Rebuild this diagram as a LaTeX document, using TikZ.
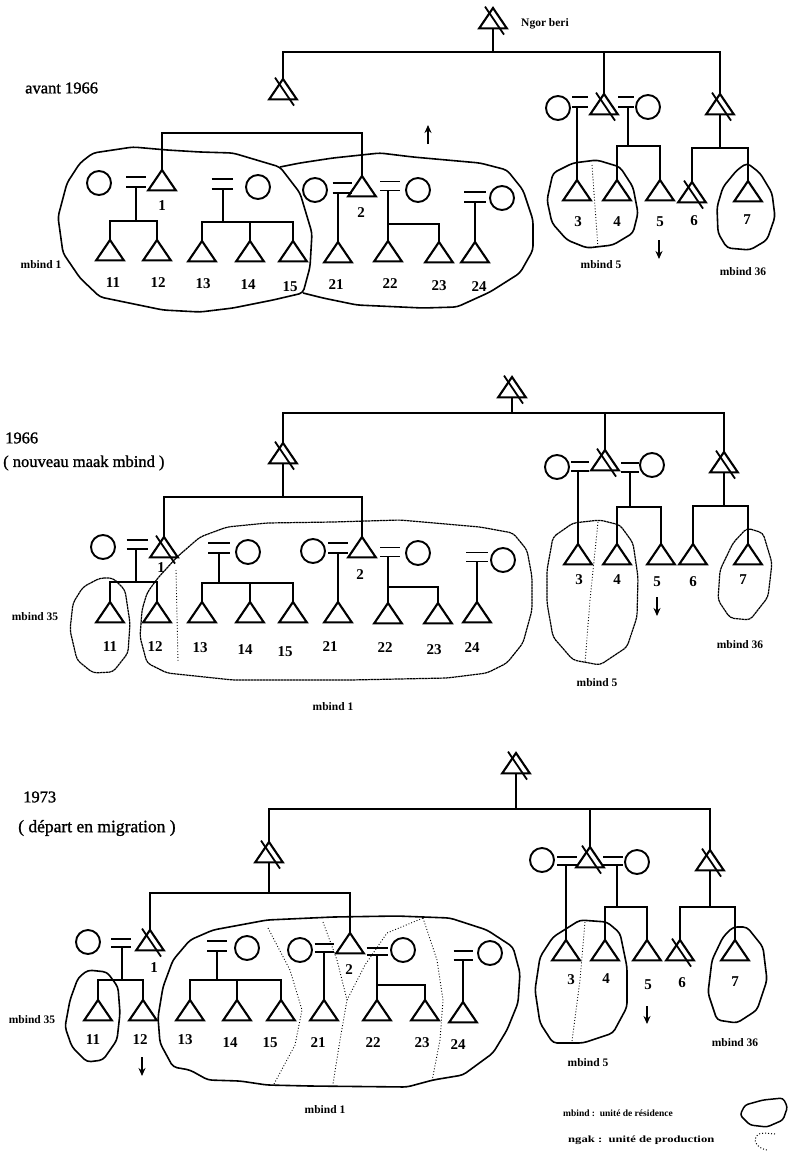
\documentclass[tikz,border=0pt]{standalone}
\usepackage{fontspec}
\setmainfont{Liberation Serif}
\newfontfamily\scanfont[FakeBold=1.2]{Liberation Serif}
\usetikzlibrary{shapes.geometric,arrows.meta}
\tikzset{
  tri/.style={regular polygon, regular polygon sides=3, minimum size=32pt, inner sep=0pt, outer sep=0pt, yscale=0.85, draw, line width=2.1pt, anchor=corner 1},
  circ/.style={circle, draw, minimum size=24pt, inner sep=0pt, line width=1.9pt},
  eqn/.style={minimum width=18pt, minimum height=9pt, inner sep=0pt, outer sep=0pt},
  eqline/.style={line width=1.8pt},
  ln/.style={line width=1.5pt},
  slash/.style={line width=1.8pt},
  num/.style={font=\fontsize{15}{15}\selectfont\bfseries, inner sep=0pt},
  small/.style={font=\fontsize{11.5}{11.5}\selectfont\bfseries, inner sep=0pt},
  title/.style={font=\scanfont\fontsize{16.5}{18}\selectfont, inner sep=0pt, anchor=west},
  outl/.style={line width=1.6pt, line join=round, rounded corners=4pt},
  outlb/.style={line width=1.2pt, line join=round, rounded corners=4pt, dash pattern=on 2.5pt off 0.5pt},
  ngak/.style={dotted, line width=0.9pt},
  arr/.style={-{Stealth[length=8pt,width=7pt]}, line width=1.6pt}
}
\newcommand\eqlines[1]{\draw[eqline] (#1.north west) -- (#1.north east) (#1.south west) -- (#1.south east);}
\newcommand\deadmark[1]{\draw[slash] ([xshift=-8pt,yshift=15pt]#1.center) -- ([xshift=11pt,yshift=-13pt]#1.center);}
\begin{document}
\begin{tikzpicture}[x=1pt,y=-1pt]
\useasboundingbox (0,0) rectangle (789,1176);

%%%%%%%%%%%%%%%% PANEL 1 : avant 1966
\node[title] (atitle) at (25,88) {avant 1966};
\node[tri] (aTop) at (493,8) {}; \deadmark{aTop}
\node[small, anchor=west] (angor) at (521,24) {Ngor beri};
\coordinate (atop) at (493,52);
\draw[ln] (aTop.side 2) -- (atop);
\node[tri] (aL) at (283,79) {}; \deadmark{aL}
\node[tri] (aM) at (604,94) {}; \deadmark{aM}
\node[tri] (aR) at (720,94) {}; \deadmark{aR}
\draw[ln] (aL.corner 1) |- (atop) -| (aR.corner 1);
\draw[ln] (aM.corner 1) -- (aM.corner 1 |- atop);

% generation of 1 and 2
\node[tri] (a1) at (162,170) {};
\node[tri] (a2) at (362,176) {};
\coordinate (abar) at (262,133);
\draw[ln] (a1.corner 1) |- (abar) -| (a2.corner 1);
\node[num] (al1) at (162,206) {1};
\node[num] (al2) at (361,213) {2};

\node[circ] (aw1) at (99,183) {};
\node[eqn, minimum width=20pt, minimum height=10pt] (ae1) at (136,182) {}; \eqlines{ae1}
\node[tri] (a11) at (110,240) {};
\node[tri] (a12) at (157,240) {};
\coordinate (ab1) at (136,221);
\draw[ln] (ae1.south) -- (ab1);
\draw[ln] (a11.corner 1) |- (ab1) -| (a12.corner 1);

\node[eqn, minimum width=21pt, minimum height=10pt] (ae1b) at (222,184) {}; \eqlines{ae1b}
\node[circ] (aw1b) at (258,187) {};
\node[tri] (a13) at (202,241) {};
\node[tri] (a14) at (250,241) {};
\node[tri] (a15) at (293,241) {};
\coordinate (ab1b) at (223,222);
\draw[ln] (ae1b.south -| ab1b) -- (ab1b);
\draw[ln] (a13.corner 1) |- (ab1b) -| (a15.corner 1);
\draw[ln] (a14.corner 1) -- (a14.corner 1 |- ab1b);

\node[circ] (aw2) at (315,190) {};
\node[eqn, minimum width=19pt, minimum height=10pt] (ae2) at (342,188) {}; \eqlines{ae2}
\node[tri] (a21) at (338,242) {};
\draw[ln] (a21.corner 1 |- ae2.south) -- (a21.corner 1);
\node[eqn, minimum width=20pt, minimum height=9pt] (ae2b) at (390,186) {}; \eqlines{ae2b}
\node[circ] (aw2b) at (418,190) {};
\node[tri] (a22) at (388,241) {};
\node[tri] (a23) at (439,242) {};
\coordinate (ab2b) at (388,224);
\draw[ln] (a22.corner 1 |- ae2b.south) -- (a22.corner 1);
\draw[ln] (a23.corner 1) |- (ab2b);
\node[eqn, minimum width=22pt, minimum height=10pt] (ae24) at (475,197) {}; \eqlines{ae24}
\node[circ] (aw24) at (502,198) {};
\node[tri] (a24) at (475,242) {};
\draw[ln] (ae24.south) -- (a24.corner 1);

\node[num] (al11) at (113,283) {11};
\node[num] (al12) at (158,283) {12};
\node[num] (al13) at (203,284) {13};
\node[num] (al14) at (248,285) {14};
\node[num] (al15) at (290,287) {15};
\node[num] (al21) at (336,285) {21};
\node[num] (al22) at (390,284) {22};
\node[num] (al23) at (439,286) {23};
\node[num] (al24) at (479,287) {24};

% right group
\node[circ] (aw5a) at (558,108) {};
\node[eqn, minimum width=16pt, minimum height=10pt] (ae5a) at (580,102) {}; \eqlines{ae5a}
\node[eqn, minimum width=16pt, minimum height=10pt] (ae5b) at (626,102) {}; \eqlines{ae5b}
\node[circ] (aw5b) at (648,107) {};
\node[tri] (a3) at (577,180) {};
\node[tri] (a4) at (617,180) {};
\node[tri] (a5) at (660,180) {};
\draw[ln] (a3.corner 1 |- ae5a.south) -- (a3.corner 1);
\coordinate (ab5) at (628,146);
\draw[ln] (ab5 |- ae5b.south) -- (ab5);
\draw[ln] (a4.corner 1) |- (ab5) -| (a5.corner 1);
\node[tri] (a6) at (692,182) {}; \deadmark{a6}
\node[tri] (a7) at (748,181) {};
\coordinate (abR) at (720,148);
\draw[ln] (aR.side 2) -- (abR);
\draw[ln] (a6.corner 1) |- (abR) -| (a7.corner 1);
\node[num] (al3) at (578,222) {3};
\node[num] (al4) at (617,222) {4};
\node[num] (al5) at (660,222) {5};
\node[num] (al6) at (694,221) {6};
\node[num] (al7) at (747,220) {7};

\coordinate (aup1) at (428,144); \coordinate (aup2) at (428,125);
\draw[arr] (aup1) -- (aup2);
\coordinate (adn1) at (659,240); \coordinate (adn2) at (659,259);
\draw[arr] (adn1) -- (adn2);

% outlines
\draw[outl] (93,153) -- (133,147) -- (167,150) -- (200,152) -- (233,153) -- (280,167) -- (300,193) -- (312,233) -- (310,267) -- (303,293) -- (273,300) -- (233,308) -- (200,312) -- (163,310) -- (100,297) -- (80,278) -- (63,253) -- (58,217) -- (67,183) -- (80,163) -- cycle;
\draw[outl] (280,167) -- (300,163) -- (333,158) -- (380,153) -- (413,157) -- (480,163) -- (507,170) -- (523,190) -- (533,220) -- (533,250) -- (520,273) -- (490,292) -- (457,307) -- (423,308) -- (357,305) -- (323,298) -- (303,293);
\draw[outl] (553,173) -- (573,163) -- (597,160) -- (620,167) -- (633,187) -- (638,213) -- (633,233) -- (613,245) -- (587,248) -- (567,240) -- (552,223) -- (547,200) -- cycle;
\draw[ngak] (592,165) -- (598,248);
\draw[outl] (747,163) -- (760,173) -- (772,193) -- (775,217) -- (767,240) -- (750,250) -- (727,248) -- (718,233) -- (717,207) -- (723,187) -- (737,170) -- cycle;
\node[small] (am1) at (41,265) {mbind 1};
\node[small] (am5) at (601,265) {mbind 5};
\node[small] (am36) at (743,272) {mbind 36};

%%%%%%%%%%%%%%%% PANEL 2 : 1966
\node[title] (btitle) at (5,438) {1966};
\node[title] (bsub) at (3,463) {( nouveau maak mbind )};
\node[tri] (bTop) at (512,377) {}; \deadmark{bTop}
\coordinate (btop) at (512,413);
\draw[ln] (bTop.side 2) -- (btop);
\node[tri] (bL) at (283,443) {}; \deadmark{bL}
\node[tri] (bM) at (605,450) {}; \deadmark{bM}
\node[tri] (bR) at (724,452) {}; \deadmark{bR}
\draw[ln] (bL.corner 1) |- (btop) -| (bR.corner 1);
\draw[ln] (bM.corner 1) -- (bM.corner 1 |- btop);

\node[tri] (b1) at (164,537) {}; \deadmark{b1}
\node[tri] (b2) at (362,537) {};
\coordinate (bbar) at (283,497);
\draw[ln] (bL.side 2) -- (bbar);
\draw[ln] (b1.corner 1) |- (bbar) -| (b2.corner 1);
\node[num] (bl1) at (161,568) {1};
\node[num] (bl2) at (360,575) {2};

\node[circ] (bw1) at (103,547) {};
\node[eqn, minimum width=21pt, minimum height=9pt] (be1) at (137,544.5) {}; \eqlines{be1}
\node[tri] (b11) at (110,602) {};
\node[tri] (b12) at (157,602) {};
\coordinate (bb1) at (136,582);
\draw[ln] (bb1 |- be1.south) -- (bb1);
\draw[ln] (b11.corner 1) |- (bb1) -| (b12.corner 1);

\node[eqn, minimum width=22pt, minimum height=10pt] (be1b) at (219,548) {}; \eqlines{be1b}
\node[circ] (bw1b) at (248,552) {};
\node[tri] (b13) at (202,602) {};
\node[tri] (b14) at (250,602) {};
\node[tri] (b15) at (293,602) {};
\coordinate (bb1b) at (219,583);
\draw[ln] (be1b.south) -- (bb1b);
\draw[ln] (b13.corner 1) |- (bb1b) -| (b15.corner 1);
\draw[ln] (b14.corner 1) -- (b14.corner 1 |- bb1b);

\node[circ] (bw2) at (313,551) {};
\node[eqn, minimum width=20pt, minimum height=10pt] (be2) at (338,548) {}; \eqlines{be2}
\node[tri] (b21) at (338,602) {};
\draw[ln] (b21.corner 1 |- be2.south) -- (b21.corner 1);
\node[eqn, minimum width=20pt, minimum height=9pt] (be2b) at (390,552) {}; \eqlines{be2b}
\node[circ] (bw2b) at (418,553) {};
\node[tri] (b22) at (388,603) {};
\node[tri] (b23) at (438,603) {};
\coordinate (bb2b) at (388,587);
\draw[ln] (b22.corner 1 |- be2b.south) -- (b22.corner 1);
\draw[ln] (b23.corner 1) |- (bb2b);
\node[eqn, minimum width=22pt, minimum height=9pt] (be24) at (477,557) {}; \eqlines{be24}
\node[circ] (bw24) at (503,560) {};
\node[tri] (b24) at (477,602) {};
\draw[ln] (be24.south) -- (b24.corner 1);

\node[num] (bl11) at (110,647) {11};
\node[num] (bl12) at (155,647) {12};
\node[num] (bl13) at (200,648) {13};
\node[num] (bl14) at (245,650) {14};
\node[num] (bl15) at (285,652) {15};
\node[num] (bl21) at (330,647) {21};
\node[num] (bl22) at (385,648) {22};
\node[num] (bl23) at (434,650) {23};
\node[num] (bl24) at (472,648) {24};

\node[circ] (bw5a) at (557,467) {};
\node[eqn, minimum width=18pt, minimum height=9pt] (be5a) at (580,466.5) {}; \eqlines{be5a}
\node[eqn, minimum width=18pt, minimum height=9pt] (be5b) at (630,467.5) {}; \eqlines{be5b}
\node[circ] (bw5b) at (652,465) {};
\node[tri] (b3) at (578,544) {};
\node[tri] (b4) at (617,544) {};
\node[tri] (b5) at (661,544) {};
\draw[ln] (b3.corner 1 |- be5a.south) -- (b3.corner 1);
\coordinate (bb5) at (630,507);
\draw[ln] (be5b.south) -- (bb5);
\draw[ln] (b4.corner 1) |- (bb5) -| (b5.corner 1);
\node[tri] (b6) at (693,544) {};
\node[tri] (b7) at (748,544) {};
\coordinate (bbR) at (724,506);
\draw[ln] (bR.side 2) -- (bbR);
\draw[ln] (b6.corner 1) |- (bbR) -| (b7.corner 1);
\node[num] (bl3) at (579,580) {3};
\node[num] (bl4) at (617,580) {4};
\node[num] (bl5) at (657,582) {5};
\node[num] (bl6) at (693,582) {6};
\node[num] (bl7) at (743,580) {7};
\coordinate (bdn1) at (657,597); \coordinate (bdn2) at (657,616);
\draw[arr] (bdn1) -- (bdn2);

\draw[outlb] (100,578) -- (113,578) -- (125,590) -- (130,623) -- (128,653) -- (113,672) -- (93,673) -- (77,660) -- (70,630) -- (73,603) -- (83,587) -- cycle;
\draw[outlb] (142,610) -- (147,593) -- (157,579) -- (177,557) -- (200,537) -- (227,527) -- (267,523) -- (333,522) -- (400,520) -- (480,527) -- (513,533) -- (527,550) -- (532,577) -- (532,610) -- (523,643) -- (507,663) -- (487,673) -- (447,678) -- (350,680) -- (233,680) -- (167,673) -- (147,663) -- (140,637) -- cycle;
\draw[ngak] (176,570) -- (178,662);
\draw[outlb] (553,537) -- (573,523) -- (600,520) -- (620,525) -- (633,543) -- (638,577) -- (637,617) -- (627,647) -- (600,665) -- (573,660) -- (553,637) -- (547,603) -- (547,570) -- cycle;
\draw[ngak] (598,522) -- (590,600) -- (585,663);
\draw[outlb] (747,528) -- (763,533) -- (772,563) -- (768,597) -- (750,620) -- (730,618) -- (718,600) -- (720,570) -- (733,543) -- cycle;
\node[small] (bm35) at (35,617) {mbind 35};
\node[small] (bm1) at (333,707) {mbind 1};
\node[small] (bm5) at (597,683) {mbind 5};
\node[small] (bm36) at (740,645) {mbind 36};

%%%%%%%%%%%%%%%% PANEL 3 : 1973
\node[title] (ctitle) at (23,797) {1973};
\node[title, font=\scanfont\fontsize{17.5}{19}\selectfont] (csub) at (18,828) {( départ en migration )};
\node[tri] (cTop) at (516,753) {}; \deadmark{cTop}
\coordinate (ctop) at (516,809);
\draw[ln] (cTop.side 2) -- (ctop);
\node[tri] (cL) at (269,842) {}; \deadmark{cL}
\node[tri] (cM) at (590,847) {}; \deadmark{cM}
\node[tri] (cR) at (710,850) {}; \deadmark{cR}
\draw[ln] (cL.corner 1) |- (ctop) -| (cR.corner 1);
\draw[ln] (cM.corner 1) -- (cM.corner 1 |- ctop);

\node[tri] (c1) at (150,930) {}; \deadmark{c1}
\node[tri] (c2) at (350,933) {};
\coordinate (cbar) at (269,893);
\draw[ln] (cL.side 2) -- (cbar);
\draw[ln] (c1.corner 1) |- (cbar) -| (c2.corner 1);
\node[num] (cl1) at (154,968) {1};
\node[num] (cl2) at (349,970) {2};

\node[circ] (cw1) at (88,942) {};
\node[eqn, minimum width=20pt, minimum height=8pt] (ce1) at (121,943) {}; \eqlines{ce1}
\node[tri] (c11) at (98,1000) {};
\node[tri] (c12) at (143,1000) {};
\coordinate (cb1) at (122,980);
\draw[ln] (cb1 |- ce1.south) -- (cb1);
\draw[ln] (c11.corner 1) |- (cb1) -| (c12.corner 1);

\node[eqn, minimum width=20pt, minimum height=10pt] (ce1b) at (217,946) {}; \eqlines{ce1b}
\node[circ] (cw1b) at (247,948) {};
\node[tri] (c13) at (190,1000) {};
\node[tri] (c14) at (237,1000) {};
\node[tri] (c15) at (281,1000) {};
\coordinate (cb1b) at (217,980);
\draw[ln] (ce1b.south) -- (cb1b);
\draw[ln] (c13.corner 1) |- (cb1b) -| (c15.corner 1);
\draw[ln] (c14.corner 1) -- (c14.corner 1 |- cb1b);

\node[circ] (cw2) at (300,950) {};
\node[eqn, minimum width=19pt, minimum height=8pt] (ce2) at (324,948) {}; \eqlines{ce2}
\node[tri] (c21) at (324,1000) {};
\draw[ln] (ce2.south) -- (c21.corner 1);
\node[eqn, minimum width=21pt, minimum height=7pt] (ce2b) at (377,951.5) {}; \eqlines{ce2b}
\node[circ] (cw2b) at (403,950) {};
\node[tri] (c22) at (377,1000) {};
\node[tri] (c23) at (425,1000) {};
\coordinate (cb2b) at (377,985);
\draw[ln] (ce2b.south) -- (c22.corner 1);
\draw[ln] (c23.corner 1) |- (cb2b);
\node[eqn, minimum width=19pt, minimum height=9pt] (ce24) at (463,955.5) {}; \eqlines{ce24}
\node[circ] (cw24) at (490,953) {};
\node[tri] (c24) at (463,1002) {};
\draw[ln] (ce24.south) -- (c24.corner 1);

\node[num] (cl11) at (93,1040) {11};
\node[num] (cl12) at (140,1040) {12};
\node[num] (cl13) at (185,1040) {13};
\node[num] (cl14) at (230,1043) {14};
\node[num] (cl15) at (270,1043) {15};
\node[num] (cl21) at (318,1043) {21};
\node[num] (cl22) at (373,1043) {22};
\node[num] (cl23) at (422,1043) {23};
\node[num] (cl24) at (458,1045) {24};

\node[circ] (cw5a) at (542,860) {};
\node[eqn, minimum width=20pt, minimum height=8pt] (ce5a) at (567,861) {}; \eqlines{ce5a}
\node[eqn, minimum width=20pt, minimum height=8pt] (ce5b) at (613,861) {}; \eqlines{ce5b}
\node[circ] (cw5b) at (637,862) {};
\node[tri] (c3) at (566,940) {};
\node[tri] (c4) at (605,940) {};
\node[tri] (c5) at (647,940) {};
\draw[ln] (c3.corner 1 |- ce5a.south) -- (c3.corner 1);
\coordinate (cb5) at (617,907);
\draw[ln] (cb5 |- ce5b.south) -- (cb5);
\draw[ln] (c4.corner 1) |- (cb5) -| (c5.corner 1);
\node[tri] (c6) at (680,940) {}; \deadmark{c6}
\node[tri] (c7) at (735,940) {};
\coordinate (cbR) at (710,907);
\draw[ln] (cR.side 2) -- (cbR);
\draw[ln] (c6.corner 1) |- (cbR) -| (c7.corner 1);
\node[num] (cl3) at (571,980) {3};
\node[num] (cl4) at (606,979) {4};
\node[num] (cl5) at (648,985) {5};
\node[num] (cl6) at (682,983) {6};
\node[num] (cl7) at (735,982) {7};
\coordinate (cdn1) at (142,1057); \coordinate (cdn2) at (142,1076);
\draw[arr] (cdn1) -- (cdn2);
\coordinate (cdn3) at (647,1006); \coordinate (cdn4) at (647,1024);
\draw[arr] (cdn3) -- (cdn4);

\draw[outl] (88,970) -- (107,972) -- (118,987) -- (120,1013) -- (117,1040) -- (103,1060) -- (87,1062) -- (72,1047) -- (65,1027) -- (70,1000) -- (78,978) -- cycle;
\draw[outl] (213,930) -- (267,920) -- (333,917) -- (397,916) -- (450,918) -- (487,930) -- (513,947) -- (520,973) -- (518,1003) -- (507,1030) -- (493,1053) -- (463,1075) -- (433,1080) -- (407,1087) -- (310,1086) -- (267,1085) -- (240,1081) -- (208,1080) -- (190,1070) -- (173,1067) -- (160,1043) -- (158,1017) -- (163,987) -- (173,960) -- (190,940) -- cycle;
\draw[ngak] (268,928) -- (290,970) -- (302,1010) -- (295,1045) -- (274,1084);
\draw[ngak] (323,922) -- (337,960) -- (347,1000) -- (340,1040) -- (333,1084);
\draw[ngak] (347,1000) -- (365,965) -- (387,933) -- (423,918);
\draw[ngak] (423,918) -- (437,960) -- (443,1000) -- (440,1040) -- (432,1081);
\draw[outl] (553,937) -- (580,920) -- (607,922) -- (620,933) -- (627,967) -- (627,1007) -- (613,1033) -- (583,1043) -- (553,1043) -- (540,1023) -- (535,990) -- (540,957) -- cycle;
\draw[ngak] (585,922) -- (580,980) -- (572,1041);
\draw[outl] (733,927) -- (747,927) -- (763,947) -- (767,980) -- (757,1010) -- (737,1023) -- (717,1020) -- (708,993) -- (712,960) -- (723,937) -- cycle;
\node[small] (cm35) at (32,1020) {mbind 35};
\node[small] (cm1) at (325,1110) {mbind 1};
\node[small] (cm5) at (588,1063) {mbind 5};
\node[small] (cm36) at (735,1043) {mbind 36};

%%%%%%%%%%%%%%%% LEGEND
\node[small, anchor=west, font=\fontsize{9.5}{9.5}\selectfont\bfseries] (leg1) at (563,1113) {mbind :\ \ unité de résidence};
\node[small, anchor=west, font=\fontsize{9.5}{9.5}\selectfont\bfseries] (leg2) at (568,1140) {\scalebox{1.33}[1]{ngak :\ \ unité de production}};
\draw[line width=1.5pt, rounded corners=3pt] (745,1105) -- (763,1100) -- (783,1098) -- (787.5,1107) -- (783,1120) -- (767,1127) -- (750,1125) -- (740,1115) -- cycle;
\draw[ngak, line width=1pt] (775,1134) to[out=180,in=60] (756,1137) to[out=240,in=180] (768,1150);
\end{tikzpicture}
\end{document}
